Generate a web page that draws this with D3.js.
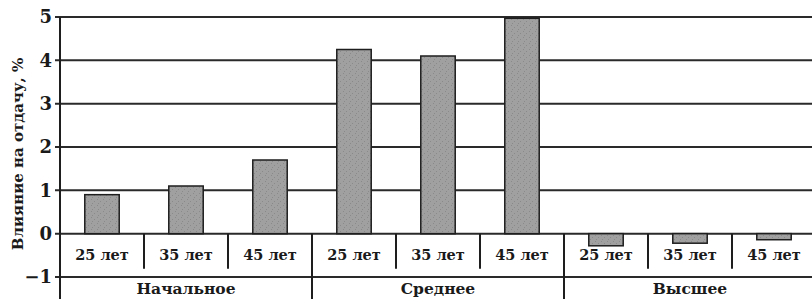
<!DOCTYPE html>
<html>
<head>
<meta charset="utf-8">
<script src="https://cdn.jsdelivr.net/npm/d3@7"></script>
<style>
	body { margin: 0 ; background: white ; }
	svg { display: block ; }
	text { font-family: "DejaVu Serif", "Liberation Serif", serif ; font-weight: bold ; fill: #1a1a1a ; }
</style>
</head>
<body>
<svg class="figure" width="812" height="299"></svg>
<script>
'use strict' ;

// education level groups, ages within each group, and effect on return (%)
let groups = [ "Начальное", "Среднее", "Высшее" ] ;
let ages = [ "25 лет", "35 лет", "45 лет" ] ;
let values = [ 0.9, 1.1, 1.7, 4.25, 4.1, 4.97, -0.28, -0.22, -0.14 ] ;
let yTicks = [ -1, 0, 1, 2, 3, 4, 5 ] ;
let yTitle = "Влияние на отдачу, %" ;

let geom = {
	left: 60,
	right: 816,
	top: 17,
	bottom: 277,
	width: 812,
	height: 299
} ;

let svg = d3.select( "svg.figure" ) ;

let categories = [] ;
groups.forEach( g => ages.forEach( a => categories.push( g + "|" + a ))) ;

let x = d3.scaleBand()
	.domain( categories )
	.range( [ geom.left, geom.right ] ) ;
let xGroup = d3.scaleBand()
	.domain( groups )
	.range( [ geom.left, geom.right ] ) ;
let y = d3.scaleLinear()
	.domain( [ -1, 5 ] )
	.range( [ geom.bottom, geom.top ] ) ;

// stipple for the bars
{
	let pattern = svg.append( "defs" )
		.append( "pattern" )
		.attr( "id", "stipple" )
		.attr( "patternUnits", "userSpaceOnUse" )
		.attr( "width", 6 )
		.attr( "height", 6 ) ;
	pattern.append( "rect" )
		.attr( "width", 6 )
		.attr( "height", 6 )
		.attr( "fill", "#a0a0a0" ) ;
	[ [ 1, 1 ], [ 4, 3 ], [ 2, 5 ] ].forEach( p => {
		pattern.append( "rect" )
			.attr( "x", p[0] )
			.attr( "y", p[1] )
			.attr( "width", 1 )
			.attr( "height", 1 )
			.attr( "fill", "#8a8a8a" ) ;
	} ) ;
}

// gridlines
svg.append( "g" )
	.attr( "class", "grid" )
	.selectAll( "line" )
	.data( yTicks )
	.enter()
	.append( "line" )
	.attr( "x1", geom.left - 5 )
	.attr( "x2", geom.width )
	.attr( "y1", d => y( d ))
	.attr( "y2", d => y( d ))
	.attr( "stroke", "#2a2a2a" )
	.attr( "stroke-width", 2 ) ;

// bars
let barWidth = x.bandwidth() * 0.41 ;
svg.append( "g" )
	.attr( "class", "bars" )
	.selectAll( "rect" )
	.data( values )
	.enter()
	.append( "rect" )
	.attr( "x", ( d, i ) => x( categories[i] ) + ( x.bandwidth() - barWidth ) / 2 )
	.attr( "y", d => y( Math.max( d, 0 )))
	.attr( "width", barWidth )
	.attr( "height", d => Math.abs( y( d ) - y( 0 )))
	.attr( "fill", "url(#stipple)" )
	.attr( "stroke", "#1e1e1e" )
	.attr( "stroke-width", 1.5 ) ;

// y axis line and labels
svg.append( "line" )
	.attr( "x1", geom.left )
	.attr( "x2", geom.left )
	.attr( "y1", y( 5 ))
	.attr( "y2", geom.height )
	.attr( "stroke", "#1e1e1e" )
	.attr( "stroke-width", 2 ) ;

svg.append( "g" )
	.attr( "class", "ticklabels" )
	.selectAll( "text" )
	.data( yTicks )
	.enter()
	.append( "text" )
	.attr( "x", geom.left - 8 )
	.attr( "y", d => y( d ))
	.attr( "dy", "0.35em" )
	.attr( "text-anchor", "end" )
	.attr( "font-size", "18px" )
	.text( d => d < 0 ? "\u2212" + Math.abs( d ) : d ) ;

svg.append( "text" )
	.attr( "transform", "translate(23," + 154 + ") rotate(-90)" )
	.attr( "text-anchor", "middle" )
	.attr( "font-size", "15px" )
	.text( yTitle ) ;

// category axis: age dividers, group dividers
svg.append( "g" )
	.attr( "class", "agedividers" )
	.selectAll( "line" )
	.data( categories.filter( ( c, i ) => i % ages.length != 0 ))
	.enter()
	.append( "line" )
	.attr( "x1", d => x( d ))
	.attr( "x2", d => x( d ))
	.attr( "y1", y( 0 ))
	.attr( "y2", y( 0 ) + 35 )
	.attr( "stroke", "#1e1e1e" )
	.attr( "stroke-width", 2 ) ;

svg.append( "g" )
	.attr( "class", "groupdividers" )
	.selectAll( "line" )
	.data( groups.slice( 1 ))
	.enter()
	.append( "line" )
	.attr( "x1", d => xGroup( d ))
	.attr( "x2", d => xGroup( d ))
	.attr( "y1", y( 0 ))
	.attr( "y2", geom.height )
	.attr( "stroke", "#1e1e1e" )
	.attr( "stroke-width", 2 ) ;

svg.append( "g" )
	.attr( "class", "agelabels" )
	.selectAll( "text" )
	.data( categories )
	.enter()
	.append( "text" )
	.attr( "x", d => x( d ) + x.bandwidth() / 2 )
	.attr( "y", y( 0 ) + 21 )
	.attr( "dy", "0.35em" )
	.attr( "text-anchor", "middle" )
	.attr( "font-size", "14.5px" )
	.text( d => d.split( "|" )[1] ) ;

svg.append( "g" )
	.attr( "class", "grouplabels" )
	.selectAll( "text" )
	.data( groups )
	.enter()
	.append( "text" )
	.attr( "x", d => xGroup( d ) + xGroup.bandwidth() / 2 )
	.attr( "y", geom.bottom + 17 )
	.attr( "text-anchor", "middle" )
	.attr( "font-size", "15.5px" )
	.text( d => d ) ;
</script>
</body>
</html>
